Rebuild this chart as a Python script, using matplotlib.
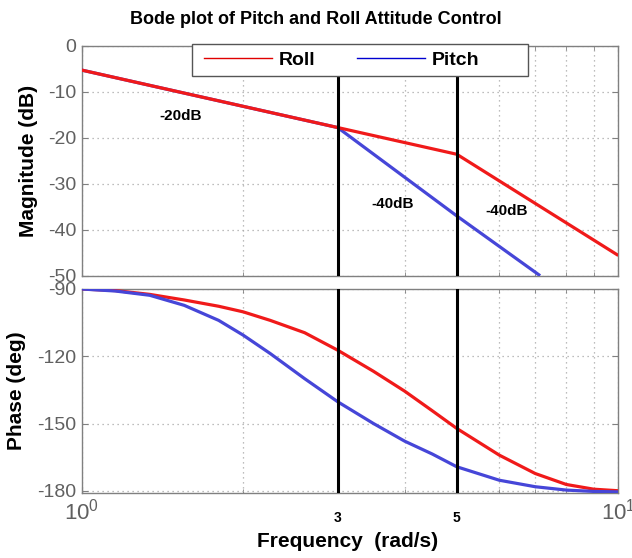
import matplotlib
matplotlib.use("Agg")
import matplotlib.pyplot as plt
from matplotlib.lines import Line2D
from matplotlib.patches import Rectangle
import matplotlib.transforms as mtransforms

plt.rcParams['font.family'] = ['Liberation Sans', 'DejaVu Sans']
plt.rcParams['axes.unicode_minus'] = False

# ---------------- data ----------------
# Magnitude (dB) asymptotes
roll_mag_w = [1.0, 5.0, 10.0]
roll_mag_db = [-5.3, -23.6, -45.6]
pitch_mag_w = [1.0, 3.0, 5.0, 7.15]
pitch_mag_db = [-5.3, -17.8, -37.0, -50.0]

# Phase (deg)
roll_ph_w = [1.0, 1.155, 1.339, 1.553, 1.8, 2.0, 2.246, 2.603, 3.0, 3.497, 4.0, 4.5, 5.0, 6.0, 7.0, 8.0, 9.0, 10.0]
roll_ph_deg = [-90.0, -90.7, -92.4, -94.9, -97.7, -100.2, -104.0, -109.5, -117.3, -126.7, -135.6, -144.3, -152.2, -164.1, -172.3, -177.2, -179.3, -180.0]
pitch_ph_w = [1.0, 1.155, 1.339, 1.553, 1.8, 2.0, 2.246, 2.603, 3.0, 3.497, 4.0, 4.5, 5.0, 6.0, 7.0, 8.0, 9.0, 10.0]
pitch_ph_deg = [-90.0, -90.9, -92.8, -97.3, -104.0, -110.6, -118.8, -130.0, -140.3, -150.0, -157.9, -163.6, -169.3, -175.3, -178.2, -179.7, -180.3, -180.5]

corner_freqs = [3, 5]
corner_labels = ['3', '5']
slope_texts = ['-20dB', '-40dB', '-40dB']
slope_pos_w = [1.531, 3.79, 6.19]
slope_pos_db = [-15.3, -34.4, -35.9]

mag_ticks = [0, -10, -20, -30, -40, -50]
phase_ticks = [-90, -120, -150, -180]
legend_labels = ['Roll', 'Pitch']

# ---------------- style ----------------
RED = '#f01a1a'
BLUE = '#4646d8'
GRAY_TXT = '#606060'
SPINE = '#808080'
GRID = '#a8a8a8'

W, H = 632, 558
fig = plt.figure(figsize=(W / 100, H / 100), dpi=100)

def px_axes(l, t, r, b):
    return [l / W, (H - b) / H, (r - l) / W, (b - t) / H]

L, R = 81.7, 618.3
ax1 = fig.add_axes(px_axes(L, 45.7, R, 275.7))
ax2 = fig.add_axes(px_axes(L, 289.0, R, 493.0))
AW = R - L
AH1 = 275.7 - 45.7

for ax in (ax1, ax2):
    ax.set_xscale('log')
    ax.set_xlim(1, 10)
    for s in ax.spines.values():
        s.set_color(SPINE)
        s.set_linewidth(1.0)
    ax.tick_params(which='both', direction='in', top=True, right=True,
                   color=SPINE, labelcolor=GRAY_TXT, labelsize=14, pad=4)
    ax.tick_params(which='major', length=4)
    ax.tick_params(which='minor', length=3)
    ax.grid(True, which='both', axis='x', color=GRID, linestyle=(0, (1, 3)), linewidth=0.9)
    ax.grid(True, which='major', axis='y', color=GRID, linestyle=(0, (1, 3)), linewidth=0.9)
    ax.set_xticks([1, 10])
    ax.set_xticks([2, 3, 4, 5, 6, 7, 8, 9], minor=True)
    ax.xaxis.set_minor_formatter(plt.NullFormatter())
    ax.set_axisbelow(True)

# magnitude
ax1.plot(pitch_mag_w, pitch_mag_db, color=BLUE, lw=2.3, zorder=3, solid_capstyle='butt')
ax1.plot(roll_mag_w, roll_mag_db, color=RED, lw=2.3, zorder=4, solid_capstyle='butt')
ax1.set_ylim(-50, 0)
ax1.set_yticks(mag_ticks)
ax1.set_xticklabels([])
ax1.set_ylabel('Magnitude (dB)', fontsize=15, fontweight='bold', color='black')
ax1.yaxis.set_label_coords((37.5 - L) / AW, 0.5)
for t, xw, yd in zip(slope_texts, slope_pos_w, slope_pos_db):
    ax1.text(xw, yd, t, fontsize=11, fontweight='bold', color='black',
             ha='center', va='center', zorder=6)

# phase
ax2.plot(roll_ph_w, roll_ph_deg, color=RED, lw=2.3, zorder=3)
ax2.plot(pitch_ph_w, pitch_ph_deg, color=BLUE, lw=2.3, zorder=4)
ax2.set_ylim(-181, -90)
ax2.set_yticks(phase_ticks)
ax2.set_xticklabels([r'$\mathregular{10^{0}}$', r'$\mathregular{10^{1}}$'], fontsize=16)
ax2.set_ylabel('Phase (deg)', fontsize=15, fontweight='bold', color='black')
ax2.yaxis.set_label_coords((26.5 - L) / AW, 0.5)
ax2.set_xlabel('Frequency  (rad/s)', fontsize=15, fontweight='bold', color='black')
ax2.xaxis.set_label_coords(0.495, -0.19)

# corner lines
for ax in (ax1, ax2):
    for f in corner_freqs:
        ax.axvline(f, color='black', lw=2.2, zorder=5)

trans = mtransforms.blended_transform_factory(ax2.transData, ax2.transAxes)
for f, lab in zip(corner_freqs, corner_labels):
    ax2.text(f, -0.125, lab, transform=trans, fontsize=10, fontweight='bold',
             color='black', ha='center', va='center')

# legend (frame drawn as a box matching the reference size)
box = Rectangle(((191.7 - L) / AW, 1 - (76 - 45.7) / AH1),
                (528.3 - 191.7) / AW, (76 - 44) / AH1,
                transform=ax1.transAxes, facecolor='white', edgecolor='#555555',
                lw=1.0, zorder=9, clip_on=False)
ax1.add_patch(box)
handles = [Line2D([], [], color='#e00000', lw=1.0), Line2D([], [], color='#0000d0', lw=1.0)]
leg = ax1.legend(handles, legend_labels, loc='center left', ncol=2,
                 bbox_to_anchor=((204 - L) / AW, 1 - (60.5 - 45.7) / AH1),
                 prop={'size': 14, 'weight': 'bold'}, frameon=False,
                 handlelength=3.5, handletextpad=0.36, columnspacing=2.1,
                 borderpad=0.0, borderaxespad=0.0)
leg.set_zorder(10)

fig.text(0.5, 1 - 23.5 / H, 'Bode plot of Pitch and Roll Attitude Control',
         ha='center', va='baseline', fontsize=13, fontweight='bold', color='black')

fig.savefig('out.png', dpi=100)
